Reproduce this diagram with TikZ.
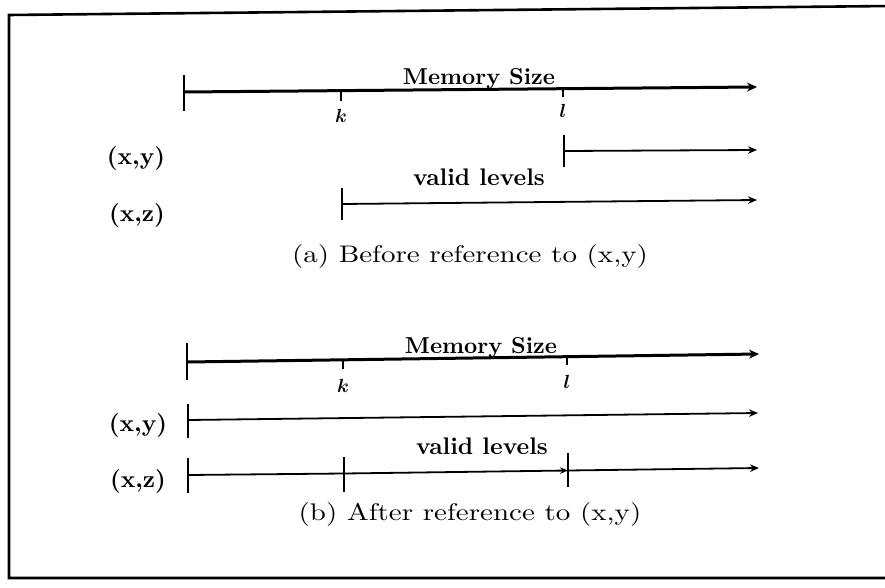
\documentclass[tikz,border=0pt]{standalone}
\usepackage{amsmath}
\usepackage{bm}
\usetikzlibrary{arrows.meta}
\newcommand{\bigtxt}[2]{\scalebox{#1}{#2}}
\newcommand{\captxt}[1]{\scalebox{2.9}[2.4]{#1}}
\begin{document}
\begin{tikzpicture}[x=1pt,y=-1pt,
  axis/.style={line width=3pt,-{Stealth[length=10pt,width=9pt]}},
  lvl/.style={line width=1.8pt,-{Stealth[length=9pt,width=7.5pt]}},
  tickmark/.style={line width=1.6pt},
  lbl/.style={font=\normalsize\bfseries,inner sep=0pt},
  ms/.style={font=\normalsize\bfseries,inner sep=0pt,anchor=base},
  captext/.style={font=\normalsize,inner sep=0pt},
  var/.style={font=\normalsize,inner sep=0pt}]
\useasboundingbox (0,0) rectangle (885,588);
% frame
\draw[line width=2.6pt] (890,578) -- (9,578) -- (9,15) -- (890,6);

% ---------- (a) ----------
\coordinate (a0) at (184,92);
\coordinate (aE) at (757,87);
\coordinate (ak) at (341,91);
\coordinate (al) at (563,89);
\draw[axis] (a0) -- (aE);
\draw[tickmark,line width=2.6pt] (184,75) -- (184,111);
\draw[tickmark,line width=2pt] (ak) -- ++(0,10);
\draw[tickmark,line width=2pt] (al) -- ++(0,8);
\node[ms] (amem) at (479,85) {\bigtxt{2.3}{Memory Size}};
\node[var] (akl) at (341,116) {\bigtxt{1.9}{$\bm{k}$}};
\node[var] (all) at (563,111) {\bigtxt{1.9}{$\bm{l}$}};

\node[lbl] (axy) at (136,158) {\bigtxt{2.4}{(x,y)}};
\coordinate (ay0) at (564,151);
\coordinate (ayE) at (757,150);
\draw[lvl] (ay0) -- (ayE);
\draw[tickmark] (564,135) -- (564,167);

\node[lbl] (avl) at (479,177) {\bigtxt{2.4}{valid levels}};
\node[lbl] (axz) at (137,215) {\bigtxt{2.4}{(x,z)}};
\coordinate (az0) at (342,204);
\coordinate (azE) at (757,200);
\draw[lvl] (az0) -- (azE);
\draw[tickmark] (342,188) -- (342,220);

\node[captext] (acap) at (470,256) {\captxt{(a) Before reference to (x,y)}};

% ---------- (b) ----------
\coordinate (b0) at (187,362);
\coordinate (bE) at (759,354);
\coordinate (bk) at (343,360);
\coordinate (bl) at (567,357);
\draw[axis] (b0) -- (bE);
\draw[tickmark,line width=2.6pt] (187,343) -- (187,380);
\draw[tickmark,line width=2pt] (bk) -- ++(0,9);
\draw[tickmark,line width=2pt] (bl) -- ++(0,8);
\node[ms] (bmem) at (481,353) {\bigtxt{2.3}{Memory Size}};
\node[var] (bkl) at (343,386) {\bigtxt{1.9}{$\bm{k}$}};
\node[var] (bll) at (567,382) {\bigtxt{1.9}{$\bm{l}$}};

\node[lbl] (bxy) at (138,425) {\bigtxt{2.4}{(x,y)}};
\coordinate (by0) at (188,420);
\coordinate (byE) at (758,413);
\draw[lvl] (by0) -- (byE);
\draw[tickmark] (188,404) -- (188,438);

\node[lbl] (bvl) at (482,446) {\bigtxt{2.4}{valid levels}};
\node[lbl] (bxz) at (138,481) {\bigtxt{2.4}{(x,z)}};
\coordinate (bz0) at (188,475);
\coordinate (bzk) at (344,473.5);
\coordinate (bzl) at (568,470.5);
\coordinate (bzE) at (759,468);
\draw[line width=1.8pt,-{Stealth[length=8pt,width=6.5pt]}] (bz0) -- (bzk) -- (bzl);
\draw[lvl] (bzl) -- (bzE);
\draw[tickmark] (188,458) -- (188,493);
\draw[tickmark] (344,457) -- (344,492);
\draw[tickmark] (568,453) -- (568,487);

\node[captext] (bcap) at (470,514) {\captxt{(b) After reference to (x,y)}};
\end{tikzpicture}
\end{document}
